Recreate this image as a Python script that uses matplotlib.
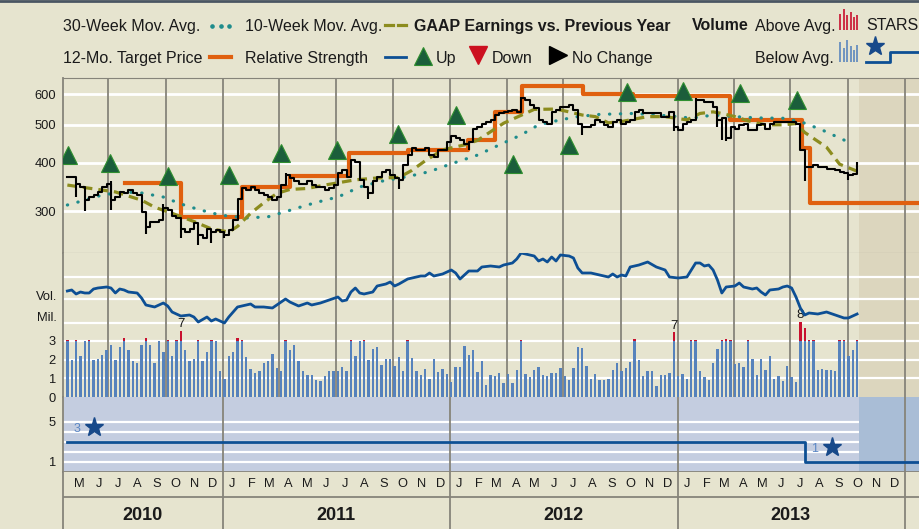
import matplotlib
matplotlib.use('Agg')
import matplotlib.pyplot as plt
import pandas as pd

plt.rcParams['font.family'] = ['Liberation Sans', 'DejaVu Sans']

# weekly price closes (one per week, Apr 2010 - Oct 2013)
weeks = pd.date_range('2010-04-26', '2013-10-16', periods=182)
close = [368, 368, 352, 346, 320, 326, 330, 336, 346, 352,
         320, 326, 336, 333, 340, 333, 330, 299, 273, 281,
         281, 284, 305, 302, 291, 288, 270, 265, 270, 279,
         260, 255, 270, 265, 268, 265, 260, 268, 284, 323,
         343, 340, 345, 340, 333, 330, 326, 320, 326, 350,
         371, 364, 358, 352, 352, 358, 350, 346, 346, 340,
         343, 350, 375, 382, 368, 406, 401, 361, 346, 333,
         358, 368, 379, 382, 371, 364, 361, 394, 418, 435,
         431, 431, 435, 418, 414, 431, 431, 452, 468, 462,
         457, 447, 452, 489, 494, 504, 510, 515, 530, 535,
         540, 544, 546, 540, 585, 579, 562, 551, 515, 510,
         504, 540, 546, 557, 557, 562, 546, 504, 494, 494,
         500, 515, 510, 500, 494, 510, 515, 504, 510, 515,
         540, 546, 535, 535, 535, 535, 525, 525, 540, 494,
         485, 504, 510, 515, 579, 579, 573, 573, 557, 515,
         520, 462, 494, 489, 500, 504, 485, 485, 500, 504,
         489, 504, 510, 510, 510, 510, 510, 504, 431, 389,
         389, 394, 389, 389, 386, 386, 382, 379, 376, 371,
         374, 390]
week_lows = {2: 326, 4: 300, 10: 302, 18: 262, 26: 255, 30: 245, 33: 248, 36: 255,
             69: 323, 76: 341, 92: 431, 118: 471, 139: 481, 149: 494, 150: 457,
             151: 455, 169: 358, 179: 361}
week_highs = {10: 358, 22: 313, 50: 376, 65: 406, 104: 590, 144: 585, 181: 401}

ma10_wk = [0, 3, 7, 11, 17, 20, 24, 29, 33, 37, 39, 42, 45, 48, 51, 55, 59, 66, 71, 76,
           79, 82, 86, 91, 94, 97, 100, 103, 107, 112, 115, 118, 121, 124, 127, 133, 137,
           142, 145, 148, 150, 153, 156, 160, 164, 167, 169, 174, 177, 181]
ma10 = [350, 346, 341, 336, 320, 307, 296, 282, 270, 265, 274, 296, 315, 333, 341, 343, 350,
        361, 365, 366, 382, 404, 431, 444, 456, 480, 505, 523, 548, 549, 540, 530, 525, 506,
        510, 525, 525, 515, 535, 540, 535, 525, 512, 500, 500, 504, 478, 438, 396, 380]
ma30_wk = [0, 4, 8, 13, 17, 22, 26, 30, 35, 41, 46, 50, 55, 59, 62, 67, 72, 78, 83, 88,
           94, 99, 104, 108, 113, 117, 122, 130, 140, 143, 148, 153, 158, 164, 168, 173, 178, 180]
ma30 = [311, 320, 330, 336, 334, 326, 313, 303, 293, 288, 290, 299, 311, 320, 326, 346, 358,
        368, 379, 397, 418, 444, 471, 500, 515, 525, 532, 535, 525, 520, 530, 525, 521, 520,
        510, 485, 457, 447]

target_dates = ['2010-07-27', '2010-10-25', '2011-01-31', '2011-04-18', '2011-07-23',
                '2011-10-25', '2012-01-29', '2012-03-13', '2012-04-26', '2012-08-02',
                '2012-10-21', '2013-03-26', '2013-07-19', '2013-08-01']
target = [355, 290, 346, 370, 423, 431, 457, 540, 629, 600, 593, 514, 437, 315]

earn_dates = ['2010-04-27', '2010-07-03', '2010-10-04', '2011-01-10', '2011-04-04',
              '2011-07-04', '2011-10-10', '2012-01-10', '2012-04-11', '2012-07-10',
              '2012-10-11', '2013-01-09', '2013-04-11', '2013-07-11']
earn_level = [418, 400, 369, 372, 424, 431, 474, 530, 397, 444, 607, 612, 603, 578]

# weekly volume (mil., bars are capped near 3 on the chart)
volume = [3.05, 2.0, 3.05, 2.2, 3.0, 3.05, 2.0, 2.05, 2.25, 2.5,
          2.8, 2.0, 2.7, 3.15, 2.5, 1.9, 1.8, 2.8, 3.15, 2.8,
          1.8, 3.0, 2.4, 3.05, 2.2, 3.05, 3.55, 2.5, 1.95, 2.05,
          3.05, 1.9, 2.4, 3.05, 3.0, 1.4, 0.95, 2.2, 2.4, 3.15,
          3.05, 2.15, 1.5, 1.3, 1.4, 1.8, 1.9, 2.3, 1.55, 1.4,
          3.05, 2.5, 2.8, 1.95, 1.4, 1.2, 1.2, 0.9, 0.85, 1.1,
          1.4, 1.4, 1.4, 1.6, 1.4, 3.05, 2.2, 3.0, 3.05, 2.0,
          2.55, 2.7, 1.7, 2.05, 2.05, 1.65, 2.15, 1.4, 3.05, 2.1,
          1.4, 1.2, 1.5, 0.95, 2.05, 1.35, 1.5, 1.25, 0.8, 1.6,
          1.6, 2.75, 2.25, 2.5, 1.35, 1.95, 0.65, 1.2, 1.1, 1.3,
          0.75, 1.25, 0.75, 1.45, 3.05, 1.25, 1.05, 1.45, 1.6, 1.15,
          1.1, 1.3, 1.3, 1.55, 1.1, 0.9, 1.55, 2.7, 2.6, 1.65,
          0.95, 1.25, 0.9, 0.9, 0.95, 1.45, 1.8, 1.4, 1.55, 1.85,
          3.1, 2.0, 1.1, 1.4, 1.4, 0.6, 1.2, 1.15, 1.3, 3.45,
          1.1, 1.25, 0.95, 3.05, 3.05, 1.4, 1.05, 0.9, 1.8, 2.55,
          3.05, 3.1, 3.05, 1.75, 1.8, 1.6, 3.05, 2.05, 1.15, 2.05,
          1.45, 2.2, 0.95, 1.1, 0.85, 1.65, 1.05, 0.8, 4.0, 3.7,
          3.05, 3.05, 1.45, 1.5, 1.45, 1.45, 1.4, 3.05, 3.05, 2.2,
          2.5, 3.05]
vol_labels = {26: '7', 139: '7', 168: '8'}

rs_wk = [0, 1, 2, 3, 4, 5, 6, 7, 9, 10, 11, 12, 13, 14, 16, 17, 18, 20, 22, 23, 24, 26, 28,
         29, 30, 32, 33, 34, 36, 37, 39, 40, 42, 43, 45, 47, 48, 50, 51, 53, 55, 56, 58, 60,
         62, 63, 64, 65, 66, 67, 68, 70, 71, 73, 74, 75, 76, 78, 79, 81, 82, 83, 84, 86, 88,
         89, 90, 92, 94, 95, 97, 99, 100, 102, 103, 104, 106, 107, 108, 109, 110, 111, 112,
         113, 115, 116, 117, 118, 120, 122, 124, 125, 126, 127, 128, 129, 131, 133, 135, 137,
         138, 140, 142, 143, 144, 145, 146, 147, 148, 149, 150, 151, 153, 154, 155, 157, 158,
         159, 160, 161, 163, 164, 165, 166, 167, 168, 169, 170, 172, 174, 176, 178, 179, 181]
rs = [109, 110, 106, 108, 107, 107, 111, 112, 113, 112, 107, 111, 110, 108, 107, 102, 95, 93,
      97, 94, 88, 84, 85, 83, 78, 83, 79, 81, 77, 83, 93, 94, 96, 93, 93, 92, 95, 101, 98, 94,
      97, 95, 97, 100, 103, 99, 100, 108, 112, 107, 106, 108, 114, 116, 118, 114, 116, 121,
      122, 124, 124, 127, 124, 126, 130, 127, 121, 129, 129, 133, 134, 133, 135, 137, 141,
      147, 145, 144, 139, 141, 138, 143, 139, 145, 144, 142, 132, 127, 127, 125, 123, 126,
      123, 125, 124, 133, 135, 138, 133, 130, 123, 122, 123, 130, 137, 137, 134, 135, 130,
      120, 107, 113, 114, 117, 113, 111, 112, 108, 105, 110, 111, 113, 114, 112, 103, 92, 85,
      87, 86, 88, 85, 82, 82, 86]

stars_dates = ['2010-04-26', '2013-07-24']
stars = [3, 1]

quarter_lines = pd.date_range('2010-07-01', '2014-01-01', freq='QS')
year_lines = pd.date_range('2011-01-01', '2014-01-01', freq='YS')
x_start = pd.Timestamp('2010-04-19')
x_end = pd.Timestamp('2014-01-23 12:00')
future = pd.Timestamp('2013-10-19')

BG = '#e6e4cf'
FUT = '#dcd6be'
STAR_BG = '#c4cde0'
STAR_FUT = '#a9bdd6'
GRID_V = '#86847a'
TXT = '#1a1a1a'
BLUE = '#0d4f94'
W, H = 919, 529


def box(x0, y0, x1, y1):
    return [x0 / W, 1 - y1 / H, (x1 - x0) / W, (y1 - y0) / H]


def frame(ax):
    ax.set_xlim(x_start, x_end)
    for s in ax.spines.values():
        s.set_visible(False)
    ax.spines['left'].set_visible(True)
    ax.spines['left'].set_color(GRID_V)
    ax.spines['left'].set_linewidth(1.3)
    ax.tick_params(axis='x', bottom=False, labelbottom=False)
    ax.tick_params(axis='y', length=0, pad=5, labelsize=9.3, labelcolor=TXT)


fig = plt.figure(figsize=(W / 100, H / 100), dpi=100, facecolor=BG)

# ---- price panel
ax_p = fig.add_axes(box(63, 78, W, 253))
ax_p.set_facecolor(BG)
frame(ax_p)
ax_p.set_yscale('log')
ax_p.set_ylim(234, 660)
ax_p.set_yticks([300, 400, 500, 600])
ax_p.set_yticklabels(['300', '400', '500', '600'])
ax_p.minorticks_off()
ax_p.spines['bottom'].set_visible(True)
ax_p.spines['bottom'].set_color(GRID_V)
ax_p.spines['top'].set_visible(True)
ax_p.spines['top'].set_color(GRID_V)
ax_p.spines['top'].set_linewidth(0.8)
ax_p.axvspan(future, x_end, color=FUT, lw=0, zorder=0)
for v in [300, 400, 500, 600]:
    ax_p.axhline(v, color='white', lw=2, zorder=1)
for q in quarter_lines:
    ax_p.axvline(q, color=GRID_V, lw=1.3, zorder=1.5)

ax_p.step(list(pd.to_datetime(target_dates)) + [x_end], target + [target[-1]], where='post',
          color='#e0600f', lw=3, zorder=3)
ax_p.plot(weeks[ma30_wk], ma30, color='#1f8c8c', lw=2.3, ls=(0, (0.1, 3.3)),
          dash_capstyle='round', zorder=4)
ax_p.plot(weeks[ma10_wk], ma10, color='#8c8c1e', lw=2.3, ls=(0, (3.0, 1.9)), zorder=4)
ax_p.step(weeks, close, where='post', color='black', lw=1.5, zorder=5)
ax_p.vlines(weeks[list(week_lows)], list(week_lows.values()),
            [close[k] for k in week_lows], color='black', lw=1.5, zorder=5)
ax_p.vlines(weeks[list(week_highs)], [close[k] for k in week_highs],
            list(week_highs.values()), color='black', lw=1.5, zorder=5)
ax_p.plot(pd.to_datetime(earn_dates), earn_level, ls='none', marker='^', ms=13.5,
          mfc='#1b5e3b', mec='#2f8f2f', mew=0.8, zorder=6)

# ---- volume / relative strength panel
ax_v = fig.add_axes(box(63, 253, W, 397))
ax_v.set_facecolor(BG)
frame(ax_v)
ax_v.set_ylim(0, 7.7)
ax_v.set_yticks([0, 1, 2, 3])
ax_v.axvspan(future, x_end, color=FUT, lw=0, zorder=0)
for v in [1, 2, 3, 3.97, 5.22, 6.43]:
    ax_v.axhline(v, color='white', lw=1.6, zorder=1)
for q in quarter_lines:
    ax_v.axvline(q, color=GRID_V, lw=1.3, zorder=1.5)
bw = pd.Timedelta(days=3.8)
ax_v.bar(weeks, [min(v, 3) for v in volume], width=bw, color='#5682bc', lw=0, zorder=3)
ax_v.bar(weeks, [max(v - 3, 0) for v in volume], bottom=3, width=bw, color='#c8102e',
         lw=0, zorder=3)
for k, lab in vol_labels.items():
    ax_v.text(weeks[k], volume[k] + 0.05, lab, ha='center', va='bottom', fontsize=9.5,
              color=TXT, zorder=4)
ax_r = ax_v.twinx()
ax_r.set_ylim(3, 147)
ax_r.set_xlim(x_start, x_end)
ax_r.axis('off')
ax_r.plot(weeks[rs_wk], rs, color=BLUE, lw=2.0, zorder=5)
fig.text(57 / W, 1 - 300 / H, 'Vol.', ha='right', va='baseline', fontsize=9.3, color=TXT)
fig.text(57 / W, 1 - 321 / H, 'Mil.', ha='right', va='baseline', fontsize=9.3, color=TXT)

# ---- STARS panel
ax_s = fig.add_axes(box(63, 397, W, 472))
ax_s.set_facecolor(STAR_BG)
frame(ax_s)
ax_s.set_ylim(0, 7.5)
ax_s.set_yticks([1, 5])
ax_s.set_yticklabels(['1', '5'])
ax_s.spines['bottom'].set_visible(True)
ax_s.spines['bottom'].set_color(GRID_V)
ax_s.spines['bottom'].set_linewidth(1.3)
ax_s.axvspan(future, x_end, color=STAR_FUT, lw=0, zorder=0)
ax_s.hlines([1, 2, 3, 4, 5], x_start, future, color='white', lw=1.6, zorder=1)
for y in year_lines:
    ax_s.axvline(y, color=GRID_V, lw=1.3, zorder=1.5)
sd = list(pd.to_datetime(stars_dates))
ax_s.step(sd + [x_end], stars + [stars[-1]], where='post', color=BLUE, lw=2.0, zorder=3)
for d, v in zip(sd, stars):
    ax_s.text(d + pd.Timedelta(days=16), v + 1.35, str(v), ha='center', va='center',
              fontsize=9, color='#5b87c4', zorder=4)
    ax_s.plot(d + pd.Timedelta(days=43), v + 1.55, marker='*', ms=14, color='#17498a',
              zorder=4)

# ---- month / year strip
ax_x = fig.add_axes(box(63, 472, W, 529))
ax_x.set_facecolor(BG)
frame(ax_x)
ax_x.set_ylim(0, 1)
ax_x.set_yticks([])
ax_x.axhline(0.561, color=GRID_V, lw=1.3)
for y in year_lines:
    ax_x.axvline(y, color=GRID_V, lw=1.3)
months = pd.date_range('2010-05-01', '2013-12-01', freq='MS')
for m in months:
    ax_x.text(m + pd.Timedelta(days=15), 0.785, 'JFMAMJJASOND'[m.month - 1], ha='center',
              va='center', fontsize=9.3, color=TXT)
year_pos = [x_start + (pd.Timestamp('2011-01-01') - x_start) / 2] + \
    [pd.Timestamp(f'{y}-07-01') for y in (2011, 2012, 2013)]
for p, y in zip(year_pos, ['2010', '2011', '2012', '2013']):
    ax_x.text(p, 0.23, y, ha='center', va='center', fontsize=13, fontweight='bold',
              color=TXT)

# ---- legend strip
ax_l = fig.add_axes(box(0, 0, W, 78))
ax_l.set_xlim(0, W)
ax_l.set_ylim(78, 0)
ax_l.axis('off')
ax_l.plot([0, W], [1, 1], color='#4a5663', lw=2)
fs = 11.5
row1, row2 = 30.5, 63
ax_l.text(63, row1, '30-Week Mov. Avg.', fontsize=fs, va='baseline', color=TXT)
ax_l.plot([212, 220.5, 229], [25.5] * 3, ls='none', marker='o', ms=2.3, color='#1f8c8c')
ax_l.text(245, row1, '10-Week Mov. Avg.', fontsize=fs, va='baseline', color=TXT)
ax_l.plot([385, 393], [25, 25], color='#8c8c1e', lw=2.3)
ax_l.plot([398, 406], [25, 25], color='#8c8c1e', lw=2.3)
ax_l.text(414, row1, 'GAAP Earnings vs. Previous Year', fontsize=fs, fontweight='bold',
          va='baseline', color=TXT)
ax_l.text(692, row1, 'Volume', fontsize=fs, fontweight='bold', va='baseline', color=TXT)
ax_l.text(755, row1, 'Above Avg.', fontsize=fs, va='baseline', color=TXT)
ax_l.vlines([840, 843.5, 847, 850.5, 854, 857], [14, 9, 15, 12, 17, 15], 30,
            color='#c8102e', lw=1.2)
ax_l.text(866, row1, 'STARS', fontsize=fs, va='baseline', color=TXT)

ax_l.text(63, row2, '12-Mo. Target Price', fontsize=fs, va='baseline', color=TXT)
ax_l.plot([210, 231], [57.3, 57.3], color='#e0600f', lw=3)
ax_l.text(245, row2, 'Relative Strength', fontsize=fs, va='baseline', color=TXT)
ax_l.plot([385, 406], [57.3, 57.3], color=BLUE, lw=2)
ax_l.plot(422.5, 56, marker='^', ms=13.5, mfc='#1b5e3b', mec='#2f8f2f', mew=0.8)
ax_l.text(436, row2, 'Up', fontsize=fs, va='baseline', color=TXT)
ax_l.plot(478, 54.5, marker='v', ms=12.5, color='#cc1020')
ax_l.text(492, row2, 'Down', fontsize=fs, va='baseline', color=TXT)
ax_l.plot(558, 54.5, marker='>', ms=12.5, color='black')
ax_l.text(571.5, row2, 'No Change', fontsize=fs, va='baseline', color=TXT)
ax_l.text(755, row2, 'Below Avg.', fontsize=fs, va='baseline', color=TXT)
ax_l.vlines([840, 843.5, 847, 850.5, 854, 857], [42, 48, 40, 46, 50, 45], 62,
            color='#5a86bd', lw=1.2)
ax_l.plot(874.5, 45.5, marker='*', ms=14, color='#17498a')
ax_l.plot([866, 890, 890, W], [62.3, 62.3, 51.7, 51.7], color=BLUE, lw=2)

fig.savefig('out.png', dpi=100, facecolor=BG)
